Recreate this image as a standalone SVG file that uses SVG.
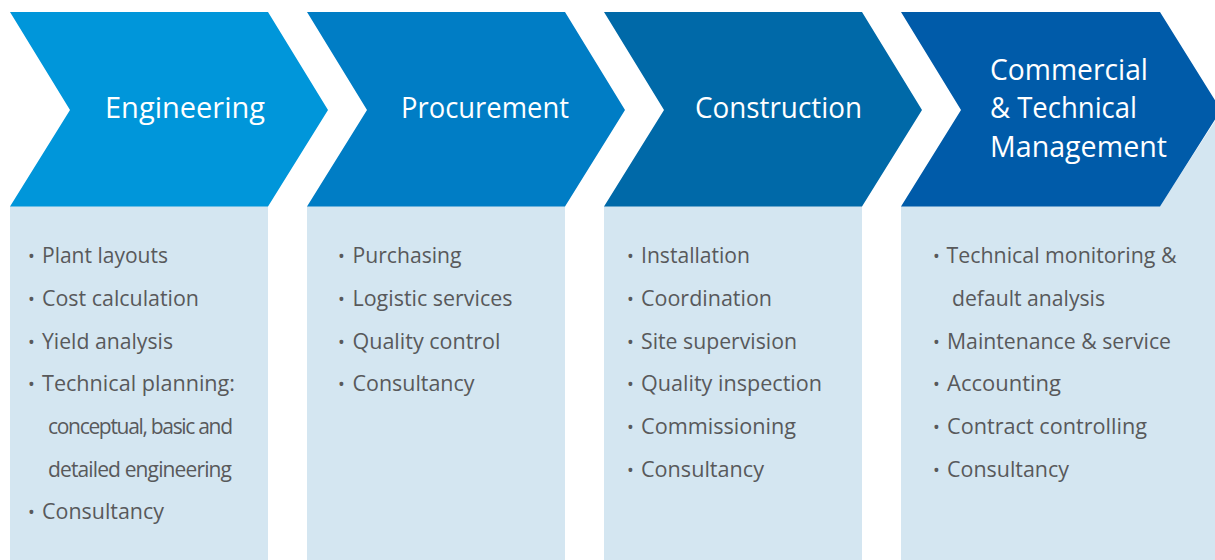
<svg xmlns="http://www.w3.org/2000/svg" width="1215" height="560" viewBox="0 0 1215 560">
<style>
.panel{fill:#d4e6f1}
.title{fill:#ffffff;font-family:"Open Sans","Noto Sans","Liberation Sans",sans-serif;font-size:29px}
.item{fill:#58595b;font-family:"Open Sans","Noto Sans","Liberation Sans",sans-serif;font-size:21px}
.bul{fill:#58595b;font-family:"Open Sans","Noto Sans","Liberation Sans",sans-serif;font-size:18px}
</style>
<rect width="1215" height="560" fill="#ffffff"/>
<g id="engineering">
<rect class="panel" x="10" y="206" width="258" height="354"/>
<polygon fill="#0096da" points="10,12 268,12 328,110 268,206.5 10,206.5 70,110"/>
<text class="title" x="105" y="118" textLength="160" lengthAdjust="spacingAndGlyphs">Engineering</text>
<g>
<text class="bul" x="28" y="263">•</text><text class="item" x="42" y="263" textLength="126" lengthAdjust="spacingAndGlyphs">Plant layouts</text>
<text class="bul" x="28" y="306">•</text><text class="item" x="42" y="306" textLength="157" lengthAdjust="spacingAndGlyphs">Cost calculation</text>
<text class="bul" x="28" y="348.5">•</text><text class="item" x="42" y="348.5" textLength="131" lengthAdjust="spacingAndGlyphs">Yield analysis</text>
<text class="bul" x="28" y="391">•</text><text class="item" x="42" y="391" textLength="193" lengthAdjust="spacingAndGlyphs">Technical planning:</text>
<text class="item" x="48" y="433.5" textLength="185" lengthAdjust="spacing">conceptual, basic and</text>
<text class="item" x="48" y="476.5" textLength="184" lengthAdjust="spacing">detailed engineering</text>
<text class="bul" x="28" y="519">•</text><text class="item" x="42" y="519" textLength="122" lengthAdjust="spacingAndGlyphs">Consultancy</text>
</g>
</g>
<g id="procurement">
<rect class="panel" x="307" y="206" width="258" height="354"/>
<polygon fill="#007dc5" points="307,12 565,12 625,110 565,206.5 307,206.5 367,110"/>
<text class="title" x="401" y="118" textLength="168" lengthAdjust="spacingAndGlyphs">Procurement</text>
<g>
<text class="bul" x="338" y="263">•</text><text class="item" x="352.5" y="263" textLength="109" lengthAdjust="spacingAndGlyphs">Purchasing</text>
<text class="bul" x="338" y="306">•</text><text class="item" x="352.5" y="306" textLength="160" lengthAdjust="spacingAndGlyphs">Logistic services</text>
<text class="bul" x="338" y="348.5">•</text><text class="item" x="352.5" y="348.5" textLength="148" lengthAdjust="spacingAndGlyphs">Quality control</text>
<text class="bul" x="338" y="391">•</text><text class="item" x="352.5" y="391" textLength="122" lengthAdjust="spacingAndGlyphs">Consultancy</text>
</g>
</g>
<g id="construction">
<rect class="panel" x="604" y="206" width="258" height="354"/>
<polygon fill="#0069a8" points="604,12 862,12 922,110 862,206.5 604,206.5 664,110"/>
<text class="title" x="695" y="118" textLength="167" lengthAdjust="spacingAndGlyphs">Construction</text>
<g>
<text class="bul" x="627" y="263">•</text><text class="item" x="641" y="263" textLength="109" lengthAdjust="spacingAndGlyphs">Installation</text>
<text class="bul" x="627" y="306">•</text><text class="item" x="641" y="306" textLength="131" lengthAdjust="spacingAndGlyphs">Coordination</text>
<text class="bul" x="627" y="348.5">•</text><text class="item" x="641" y="348.5" textLength="156" lengthAdjust="spacingAndGlyphs">Site supervision</text>
<text class="bul" x="627" y="391">•</text><text class="item" x="641" y="391" textLength="181" lengthAdjust="spacingAndGlyphs">Quality inspection</text>
<text class="bul" x="627" y="433.5">•</text><text class="item" x="641" y="433.5" textLength="155" lengthAdjust="spacingAndGlyphs">Commissioning</text>
<text class="bul" x="627" y="476.5">•</text><text class="item" x="641" y="476.5" textLength="123" lengthAdjust="spacingAndGlyphs">Consultancy</text>
</g>
</g>
<g id="management">
<polygon class="panel" points="901,206 1160,206 1215,121 1215,560 901,560"/>
<polygon fill="#005ba9" points="901,12 1160,12 1221,110 1160,206.5 901,206.5 961,110"/>
<text class="title" x="990" y="80" textLength="158" lengthAdjust="spacingAndGlyphs">Commercial</text>
<text class="title" x="990" y="118" textLength="147" lengthAdjust="spacingAndGlyphs">&amp; Technical</text>
<text class="title" x="990" y="157" textLength="177" lengthAdjust="spacingAndGlyphs">Management</text>
<g>
<text class="bul" x="933" y="263">•</text><text class="item" x="946.5" y="263" textLength="230" lengthAdjust="spacingAndGlyphs">Technical monitoring &amp;</text>
<text class="item" x="952" y="306" textLength="153" lengthAdjust="spacingAndGlyphs">default analysis</text>
<text class="bul" x="933" y="348.5">•</text><text class="item" x="947" y="348.5" textLength="224" lengthAdjust="spacingAndGlyphs">Maintenance &amp; service</text>
<text class="bul" x="933" y="391">•</text><text class="item" x="947" y="391" textLength="114" lengthAdjust="spacingAndGlyphs">Accounting</text>
<text class="bul" x="933" y="433.5">•</text><text class="item" x="947" y="433.5" textLength="200" lengthAdjust="spacingAndGlyphs">Contract controlling</text>
<text class="bul" x="933" y="476.5">•</text><text class="item" x="947" y="476.5" textLength="122" lengthAdjust="spacingAndGlyphs">Consultancy</text>
</g>
</g>
</svg>
